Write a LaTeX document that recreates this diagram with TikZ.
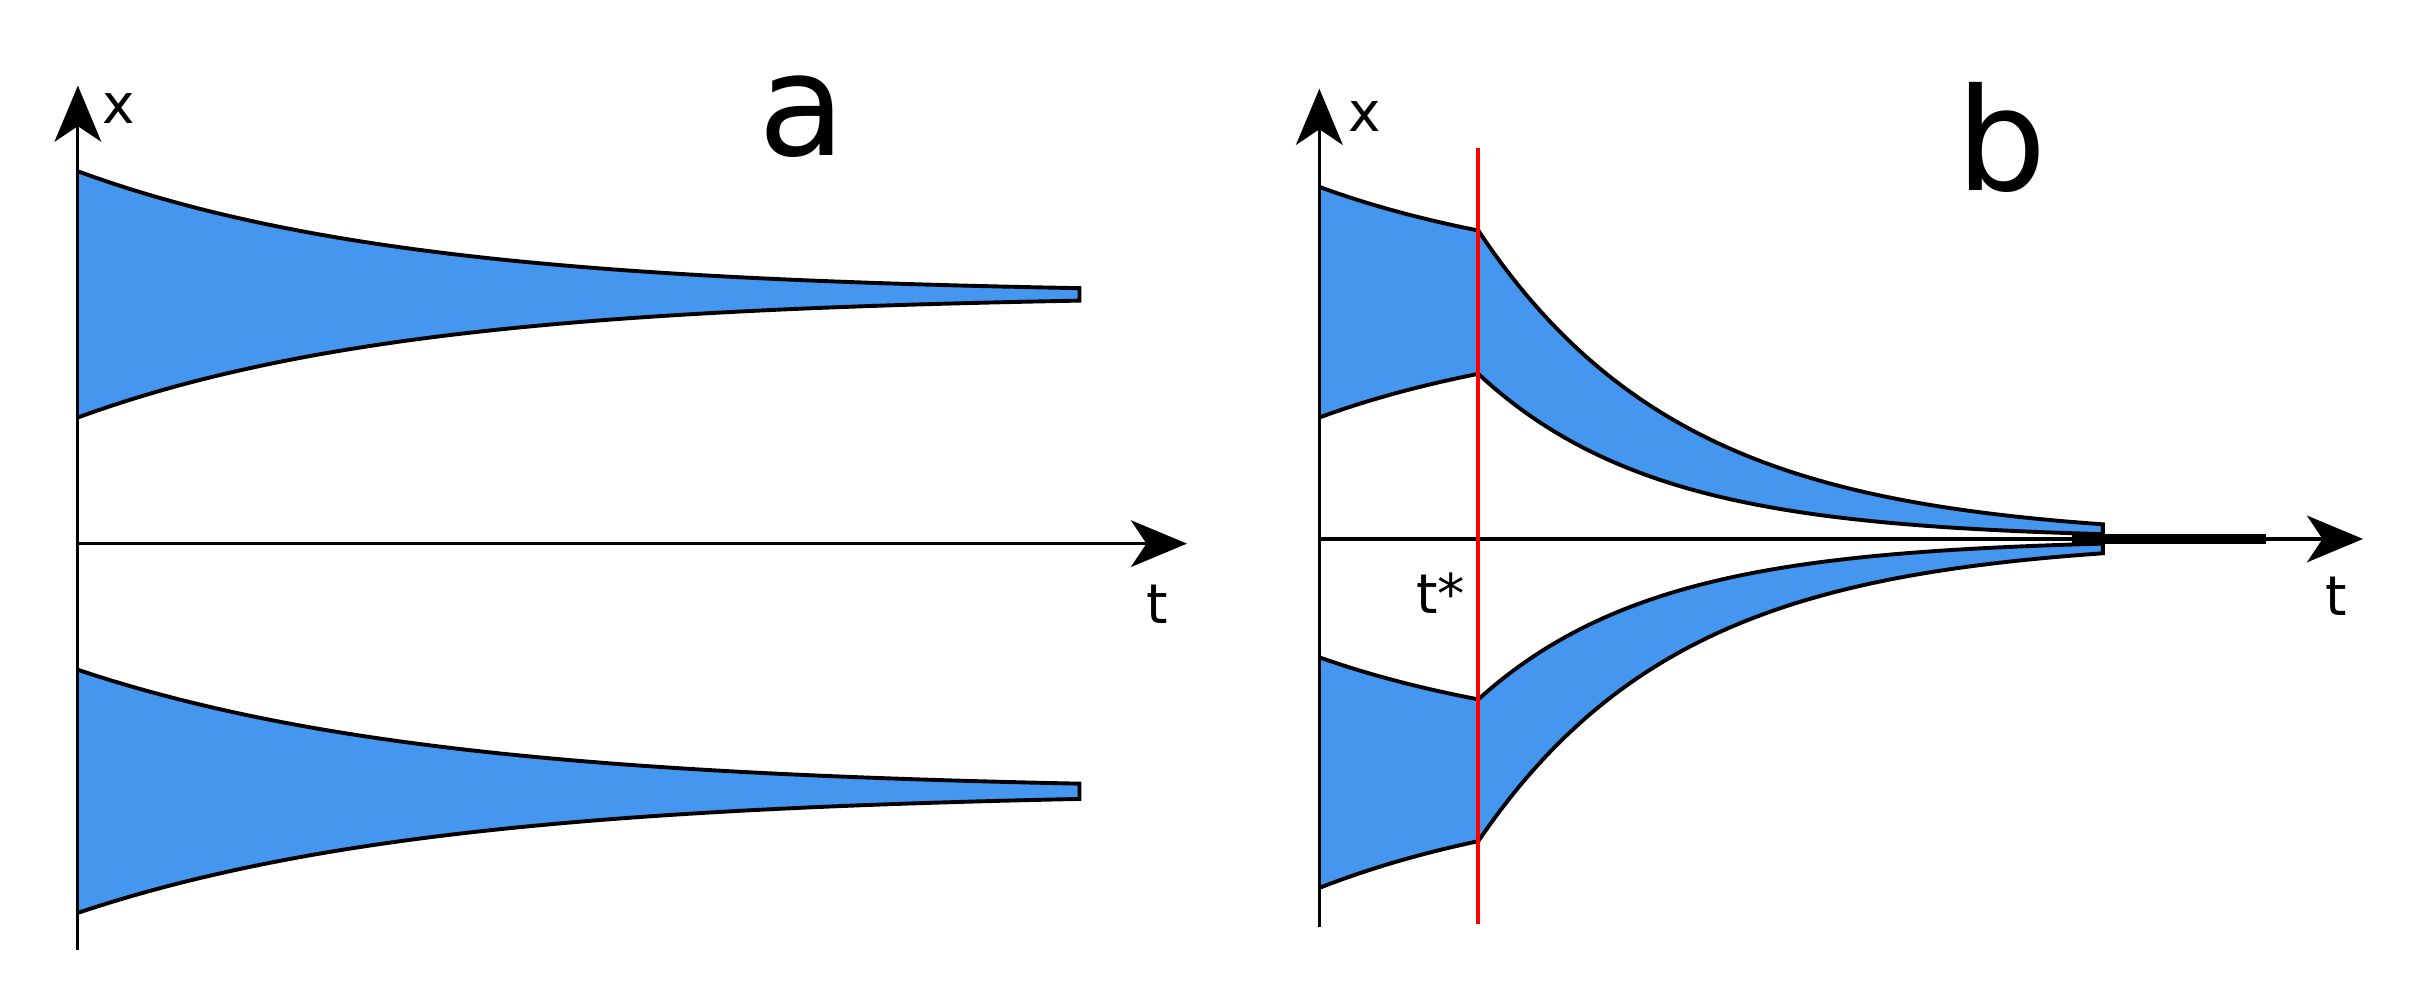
\documentclass[tikz,border=0pt]{standalone}
\usepackage{fontspec}
\setmainfont{DejaVu Sans}
\usetikzlibrary{arrows.meta}
\definecolor{band}{HTML}{4496EE}
\begin{document}
\begin{tikzpicture}[x=0.1mm,y=-0.1mm,
  ax/.style={line width=0.2mm,-{Stealth[length=3.6mm,width=3mm,inset=1mm]}},
  edge/.style={line width=0.25mm},
  bandfill/.style={fill=band,draw=black,line width=0.25mm},
  lab/.style={font=\fontsize{10}{12}\selectfont},
  big/.style={font=\fontsize{26}{30}\selectfont}]
\useasboundingbox (0,0) rectangle (1560,638);
% panel a
\coordinate (ao) at (50,610);
\coordinate (ay) at (50,55);
\coordinate (ax0) at (50,349);
\coordinate (ax1) at (762,349);
\filldraw[bandfill,samples=60,domain=50:693]
  plot (\x,{189-79*exp(-0.00464*(\x-50))}) -- plot[domain=693:50] (\x,{189+79*exp(-0.00464*(\x-50))}) ;
\filldraw[bandfill,samples=60,domain=50:693]
  plot (\x,{508-78*exp(-0.0043*(\x-50))}) -- plot[domain=693:50] (\x,{508+78*exp(-0.0043*(\x-50))});
\fill[white] (40,90) rectangle (49.5,620);
\draw[ax] (ao) -- (ay);
\draw[ax] (ax0) -- (ax1);
\node[lab] (xa) at (76,70) {x};
\node[lab] (ta) at (743,388) {t};
\node[big] (la) at (515,75) {a};
% panel b
\coordinate (bo) at (847,595);
\coordinate (by) at (847,57);
\coordinate (bx0) at (847,346);
\coordinate (bx1) at (1517,346);
\filldraw[bandfill,samples=30]
  plot[domain=847:949] (\x,{120+28*(1-exp(-0.006*(\x-847)))/(1-exp(-0.612))})
  -- plot[domain=949:847] (\x,{268-28*(1-exp(-0.006*(\x-847)))/(1-exp(-0.612))});
\filldraw[bandfill,samples=30]
  plot[domain=847:949] (\x,{422+27*(1-exp(-0.006*(\x-847)))/(1-exp(-0.612))})
  -- plot[domain=949:847] (\x,{570-30*(1-exp(-0.006*(\x-847)))/(1-exp(-0.612))});
\filldraw[bandfill,samples=80]
  plot[domain=949:1350] (\x,{346-198*exp(-0.0076*(\x-949))})
  -- plot[domain=1350:949] (\x,{346-106*exp(-0.0088*(\x-949))});
\filldraw[bandfill,samples=80]
  plot[domain=949:1350] (\x,{346+103*exp(-0.0088*(\x-949))})
  -- plot[domain=1350:949] (\x,{346+194*exp(-0.0076*(\x-949))});
\fill[white] (837,90) rectangle (846.5,600);
\draw[ax] (bo) -- (by);
\draw[ax] (bx0) -- (bx1);
\draw[line width=0.7mm] (1330,346) -- (1455,346);
\coordinate (r0) at (949,95);
\coordinate (r1) at (949,593);
\draw[red,line width=0.25mm] (r0) -- (r1);
\node[lab] (xb) at (876,75) {x};
\node[lab] (tsb) at (925,381) {t*};
\node[lab] (tb) at (1500,383) {t};
\node[big] (lb) at (1285,88) {b};
\end{tikzpicture}
\end{document}
